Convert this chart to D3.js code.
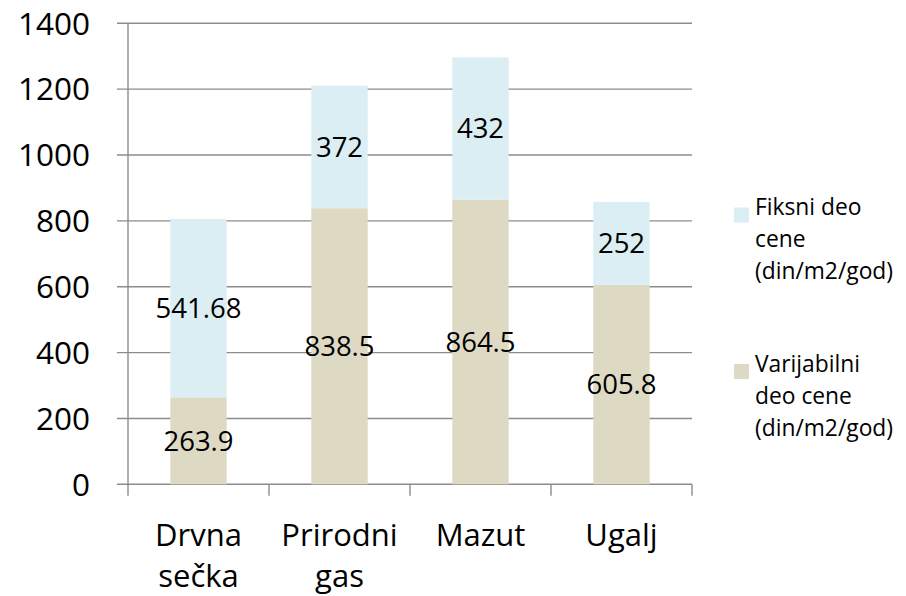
<!DOCTYPE html>
<html><head><meta charset="utf-8">
<script src="https://cdn.jsdelivr.net/npm/d3@7"></script>
<style>body{margin:0;background:#fff}svg{display:block}text{font-family:"Open Sans",sans-serif;fill:#000}</style>
</head><body>
<script>
const categories = [["Drvna","sečka"],["Prirodni","gas"],["Mazut"],["Ugalj"]];
const fiksni = [541.68, 372, 432, 252];
const varijabilni = [263.9, 838.5, 864.5, 605.8];
const yTicks = [0,200,400,600,800,1000,1200,1400];
const seriesNames = [["Fiksni deo","cene","(din/m2/god)"],["Varijabilni","deo cene","(din/m2/god)"]];
const colors = {fiksni:"#DBEEF4", varijabilni:"#DDD9C3"};

const W=906,H=596;
const svg=d3.select("body").append("svg").attr("width",W).attr("height",H);
const x0=128,x1=692,yTop=23.3,yBot=484.3;
const x=d3.scaleBand().domain(d3.range(categories.length)).range([x0,x1]).paddingInner(0.6).paddingOuter(0.3);
const y=d3.scaleLinear().domain([0,1400]).range([yBot,yTop]);
const grid="#8c8c8c";

// gridlines
svg.append("g").selectAll("line").data(yTicks).join("line")
  .attr("x1",117).attr("x2",x1).attr("y1",d=>y(d)).attr("y2",d=>y(d))
  .attr("stroke",grid).attr("stroke-width",1.4);
// y labels
svg.append("g").selectAll("text").data(yTicks).join("text")
  .attr("x",90).attr("y",d=>y(d)).attr("dy","0.36em").attr("text-anchor","end")
  .attr("font-size",31.5).text(d=>d);

// bars
const stack=categories.map((c,i)=>({i,v:varijabilni[i],f:fiksni[i]}));
svg.append("g").selectAll("rect").data(stack).join("rect")
  .attr("x",d=>x(d.i)).attr("width",x.bandwidth())
  .attr("y",d=>y(d.v)).attr("height",d=>y(0)-y(d.v)).attr("fill",colors.varijabilni);
svg.append("g").selectAll("rect").data(stack).join("rect")
  .attr("x",d=>x(d.i)).attr("width",x.bandwidth())
  .attr("y",d=>y(d.v+d.f)).attr("height",d=>y(d.v)-y(d.v+d.f)).attr("fill",colors.fiksni);

// axes lines
svg.append("line").attr("x1",x0).attr("x2",x0).attr("y1",yTop).attr("y2",yBot+11.5).attr("stroke",grid).attr("stroke-width",1.4);
const bandStep=(x1-x0)/categories.length;
svg.append("g").selectAll("line").data(d3.range(1,categories.length+1)).join("line")
  .attr("x1",d=>x0+d*bandStep).attr("x2",d=>x0+d*bandStep).attr("y1",yBot).attr("y2",yBot+11.5)
  .attr("stroke",grid).attr("stroke-width",1.4);

// data labels
svg.append("g").selectAll("text").data(stack).join("text")
  .attr("x",d=>x(d.i)+x.bandwidth()/2).attr("y",d=>y(d.v/2)).attr("dy","0.36em")
  .attr("text-anchor","middle").attr("font-size",27.5).text(d=>d.v);
svg.append("g").selectAll("text").data(stack).join("text")
  .attr("x",d=>x(d.i)+x.bandwidth()/2).attr("y",d=>y(d.v+d.f/2)).attr("dy","0.36em")
  .attr("text-anchor","middle").attr("font-size",27.5).text(d=>d.f);

// category labels
const cl=svg.append("g").selectAll("text").data(categories).join("text")
  .attr("text-anchor","middle").attr("font-size",31)
  .attr("x",(d,i)=>x(i)+x.bandwidth()/2).attr("y",545.5);
cl.selectAll("tspan").data(d=>d).join("tspan")
  .attr("x",function(){return this.parentNode.getAttribute("x");})
  .attr("dy",(d,i)=>i?41:0).text(d=>d);

// legend
const lg=[{c:colors.fiksni,t:seriesNames[0],y:215},{c:colors.varijabilni,t:seriesNames[1],y:371.5}];
lg.forEach(l=>{
  svg.append("rect").attr("x",734).attr("y",l.y-7.5).attr("width",15).attr("height",15).attr("fill",l.c);
  const t=svg.append("text").attr("x",755).attr("y",l.y).attr("dy","0.36em").attr("font-size",22.8);
  l.t.forEach((s,i)=>t.append("tspan").attr("x",755).attr("dy",i?32:0).text(s));
});
</script>
</body></html>
